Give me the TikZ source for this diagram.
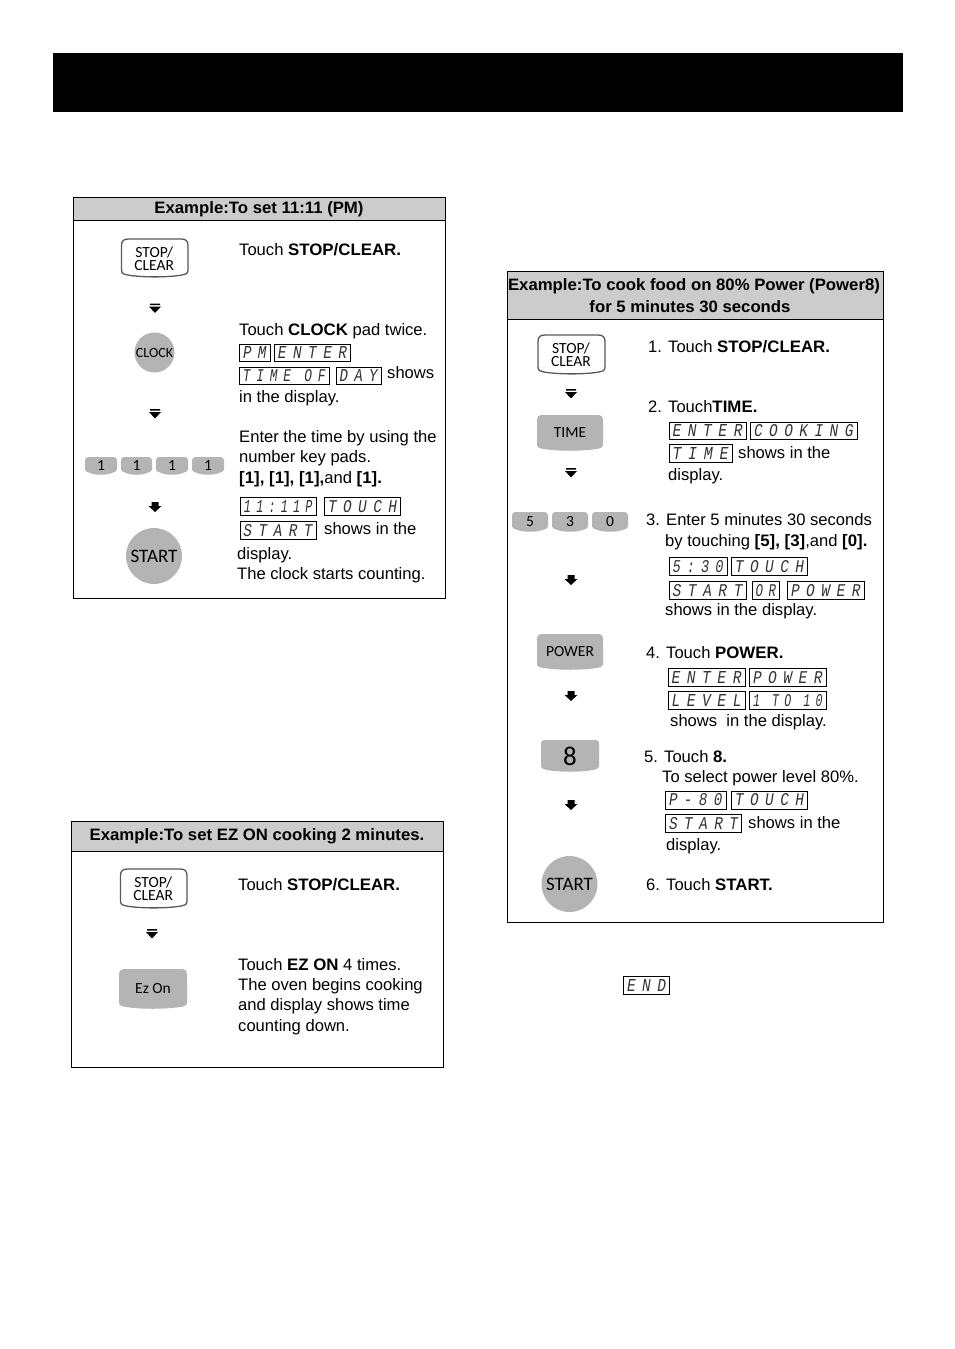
\documentclass[tikz,border=0pt]{standalone}
\usepackage{fontspec}
\setmainfont[BoldFeatures={FakeStretch=1.015}]{Liberation Sans}
\newfontfamily\keyfont{Carlito}
\newfontfamily\lcdfont[LetterSpace=45]{Liberation Mono}
\newcounter{nid}
\definecolor{padgray}{HTML}{B4B4B4}
\definecolor{headgray}{HTML}{CCCCCC}
\tikzset{
  txt/.style={anchor=base west,inner sep=0pt,font=\fontsize{16.6}{20}\selectfont,text=black},
  headtxt/.style={anchor=center,inner sep=0pt,font=\fontsize{16.5}{20}\bfseries\selectfont},
  frame/.style={draw=black,line width=1pt,fill=white},
  headband/.style={draw=black,line width=1pt,fill=headgray},
  lcdframe/.style={draw=black,line width=1pt,fill=white},
  keylabel/.style={anchor=center,inner sep=0pt,align=center,text=black,font=\keyfont\fontsize{15.5}{13}\selectfont},
  padfill/.style={fill=padgray,draw=none},
  arrowfill/.style={fill=black,draw=none}
}
\newcommand{\tx}[3]{\stepcounter{nid}\node[txt] (t\thenid) at (#1,#2) {#3};}
\newcommand{\lcdbox}[5]{\stepcounter{nid}
  \draw[lcdframe] (#1,#2) rectangle (#3,#4);
  \pgfmathsetmacro{\lw}{#3-#1-7}\pgfmathsetmacro{\lcx}{(#1+#3)/2}\pgfmathsetmacro{\lcy}{(#2+#4)/2}
  \node[inner sep=0pt,text=black!80] (d\thenid) at (\lcx,\lcy) {\resizebox{\lw pt}{12pt}{\lcdfont\itshape #5}};}
\newcommand{\padkey}[6]{\stepcounter{nid}
  \pgfmathsetmacro{\qa}{#1+(#3-#1)*.3}\pgfmathsetmacro{\qb}{#1+(#3-#1)*.7}
  \pgfmathsetmacro{\lcx}{(#1+#3)/2}\pgfmathsetmacro{\lcy}{(#2+#4)/2}
  \fill[padfill] (#1+#5,#2) -- (#3-#5,#2) .. controls (#3-1,#2) and (#3,#2+1) .. (#3,#2+#5)
     -- (#3,#4-6) .. controls (#3,#4-4) and (#3-1.5,#4-3) .. (#3-4,#4-2.5) .. controls (\qb,#4+.5) and (\qa,#4+.5) .. (#1+4,#4-2.5)
     .. controls (#1+1.5,#4-3) and (#1,#4-4) .. (#1,#4-6)
     -- (#1,#2+#5) .. controls (#1,#2+1) and (#1+1,#2) .. (#1+#5,#2) -- cycle;
  \node[keylabel] (k\thenid) at (\lcx,\lcy) {#6};}
\newcommand{\stopkey}[4]{\stepcounter{nid}
  \pgfmathsetmacro{\qa}{#1+(#3-#1)*.3}\pgfmathsetmacro{\qb}{#1+(#3-#1)*.7}
  \pgfmathsetmacro{\lcx}{(#1+#3)/2-.5}\pgfmathsetmacro{\lcy}{(#2+#4)/2+.5}
  \draw[draw=black!65,line width=1.3pt,fill=white] (#1+7,#2) -- (#3-7,#2) .. controls (#3-2,#2) and (#3,#2+2) .. (#3,#2+7)
     -- (#3,#4-7) .. controls (#3,#4-3) and (#3-3,#4-2.5) .. (#3-6,#4-2) .. controls (\qb,#4+.5) and (\qa,#4+.5) .. (#1+6,#4-2)
     .. controls (#1+3,#4-2.5) and (#1,#4-3) .. (#1,#4-7) -- (#1,#2+7) .. controls (#1,#2+2) and (#1+2,#2) .. (#1+7,#2) -- cycle;
  \node[keylabel] (k\thenid) at (\lcx,\lcy) {STOP/\\CLEAR};}
\newcommand{\roundkey}[4]{\stepcounter{nid}
  \fill[padfill] (#1,#2) circle (#3);
  \node[keylabel] (k\thenid) at (#1,#2+.7) {#4};}
\newcommand{\arrS}[2]{\fill[arrowfill,shift={(#1,#2)}] (-3.5,-5) -- (3.5,-5) -- (3.5,-1) -- (6.5,-1) -- (0,5) -- (-6.5,-1) -- (-3.5,-1) -- cycle;}
\newcommand{\arrD}[2]{\fill[arrowfill,shift={(#1,#2)}] (-5,-5) rectangle (5,-3.5) (-6,-2) -- (6,-2) -- (0,4.5) -- cycle;}
\begin{document}
\begin{tikzpicture}[x=1pt,y=-1pt]
\useasboundingbox (0,0) rectangle (954,1349);
\fill[white] (0,0) rectangle (954,1349);
\fill[black] (53,53) rectangle (903,112);

% ---------- box 1
\draw[frame] (73.5,197.5) rectangle (445.5,598.5);
\draw[headband] (73.5,197.5) rectangle (445.5,220.5);
\node[headtxt] (h1) at (259,209) {Example:To set 11:11 (PM)};
\stopkey{121.5}{239}{188}{277}
\arrD{155}{308.5}
\roundkey{154.5}{352.5}{20}{\fontsize{14}{13}\selectfont CLOCK}
\arrD{155}{414}
\padkey{85}{457}{117}{475}{4}{1}
\padkey{121}{457}{152}{475}{4}{1}
\padkey{156}{457}{188}{475}{4}{1}
\padkey{192}{457}{224}{475}{4}{1}
\arrS{155}{507}
\roundkey{154}{556}{28}{\fontsize{19}{18}\selectfont START}
\tx{239}{255}{Touch \textbf{STOP/CLEAR.}}
\tx{239}{335}{Touch \textbf{CLOCK} pad twice.}
\lcdbox{239.5}{344.5}{270}{361}{PM}
\lcdbox{274.5}{344.5}{350.5}{361}{ENTER}
\lcdbox{239.5}{367}{329}{384.5}{TIME OF}
\lcdbox{336}{367}{381}{384.5}{DAY}
\tx{387}{378}{shows}
\tx{239}{402}{in the display.}
\tx{239}{442}{Enter the time by using the}
\tx{239}{462}{number key pads.}
\tx{239}{483}{\textbf{[1], [1], [1],}and \textbf{[1].}}
\lcdbox{240.5}{497.5}{316}{515}{11:11P}
\lcdbox{324.5}{497.5}{400.5}{515}{TOUCH}
\lcdbox{240}{521.5}{316}{539.5}{START}
\tx{324}{534}{shows in the}
\tx{237}{559}{display.}
\tx{237}{579}{The clock starts counting.}

% ---------- box 2
\draw[frame] (71.5,821.5) rectangle (443.5,1067.5);
\draw[headband] (71.5,821.5) rectangle (443.5,851.5);
\node[headtxt] (h2) at (257,836) {Example:To set EZ ON cooking 2 minutes.};
\stopkey{120.5}{869}{187}{908}
\arrD{152}{934}
\padkey{119}{969}{187}{1009}{8}{Ez On}
\tx{238}{890}{Touch \textbf{STOP/CLEAR.}}
\tx{238}{970}{Touch \textbf{EZ ON} 4 times.}
\tx{238}{990}{The oven begins cooking}
\tx{238}{1010}{and display shows time}
\tx{238}{1031}{counting down.}

% ---------- box 3
\draw[frame] (507.5,271.5) rectangle (883.5,922.5);
\draw[headband] (507.5,271.5) rectangle (883.5,319.5);
\node[headtxt] (h3) at (694,286.5) {Example:To cook food on 80\% Power (Power8)};
\node[headtxt] (h4) at (690,306.5) {for 5 minutes 30 seconds};
\stopkey{538}{335}{605}{374}
\arrD{571}{394}
\padkey{537}{415}{603}{451}{7}{TIME}
\arrD{571}{473}
\padkey{512}{512}{548}{532}{4}{5}
\padkey{552}{512}{588}{532}{4}{3}
\padkey{592}{512}{628}{532}{4}{0}
\arrS{571}{580}
\padkey{537}{634}{603}{670}{7}{POWER}
\arrS{571}{696}
\padkey{541}{740}{599}{772}{5}{\fontsize{27}{26}\selectfont 8}
\arrS{571}{805}
\roundkey{569.5}{884}{28}{\fontsize{19}{18}\selectfont START}
\tx{648}{352}{1. Touch \textbf{STOP/CLEAR.}}
\tx{648}{412}{2. Touch\textbf{TIME.}}
\lcdbox{669}{422}{746}{439.5}{ENTER}
\lcdbox{750.5}{422}{857}{439.5}{COOKING}
\lcdbox{669}{444.5}{732}{462}{TIME}
\tx{738}{458}{shows in the}
\tx{668}{480}{display.}
\tx{646}{525}{3. Enter 5 minutes 30 seconds}
\tx{665}{546}{by touching \textbf{[5], [3]},and \textbf{[0].}}
\lcdbox{669}{557.5}{727}{575}{5:30}
\lcdbox{731.5}{557.5}{807.5}{575}{TOUCH}
\lcdbox{669}{581.5}{746}{599.5}{START}
\lcdbox{752}{581.5}{779.5}{599.5}{OR}
\lcdbox{787.5}{581.5}{864}{599.5}{POWER}
\tx{665}{615}{shows in the display.}
\tx{646}{658}{4. Touch \textbf{POWER.}}
\lcdbox{668}{668.5}{745}{686.5}{ENTER}
\lcdbox{749.5}{668.5}{826}{686.5}{POWER}
\lcdbox{668}{691.5}{745}{709.5}{LEVEL}
\lcdbox{749.5}{691.5}{826}{709.5}{1 TO 10}
\tx{670}{726}{shows\ \ in the display.}
\tx{644}{762}{5. Touch \textbf{8.}}
\tx{662}{782}{To select power level 80\%.}
\lcdbox{665.5}{791}{726}{809}{P-80}
\lcdbox{731.5}{791}{807.5}{809}{TOUCH}
\lcdbox{665.5}{814.5}{741.5}{832}{START}
\tx{748}{828}{shows in the}
\tx{666}{850}{display.}
\tx{646}{890}{6. Touch \textbf{START.}}

\lcdbox{623.5}{976.5}{669.5}{994.5}{END}
\end{tikzpicture}
\end{document}
